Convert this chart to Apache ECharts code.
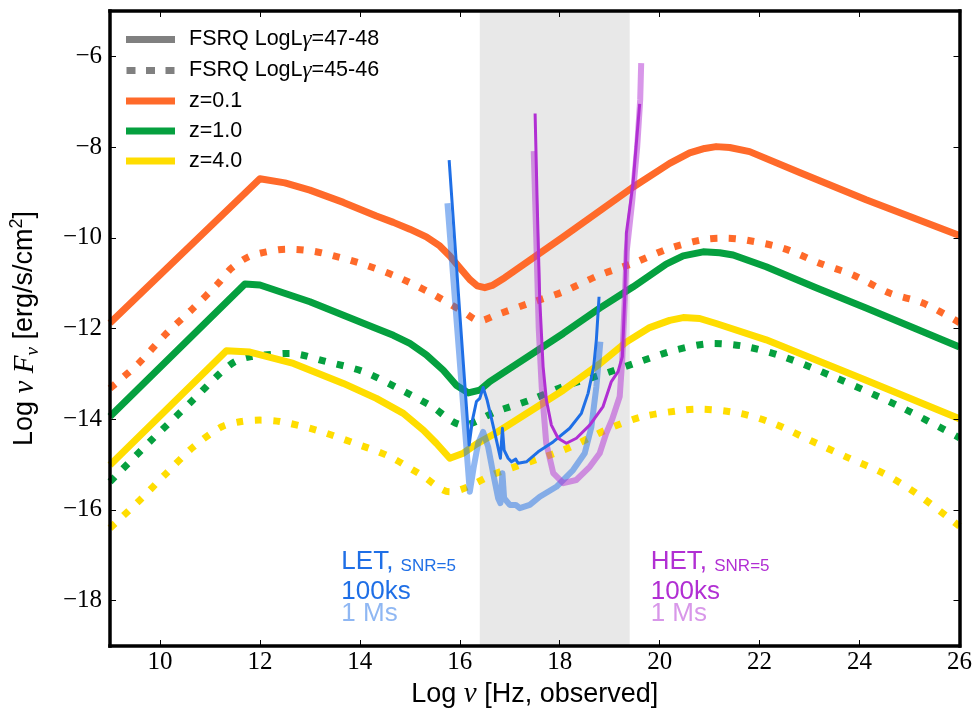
<!DOCTYPE html>
<html>
<head>
<meta charset="utf-8">
<script src="https://cdn.jsdelivr.net/npm/echarts@6/dist/echarts.min.js"></script>
<style>
  html, body { margin: 0; padding: 0; background: #fff; }
  #chart { width: 975px; height: 716px; }
</style>
</head>
<body>
<div id="chart"></div>
<script>
// Tick positions
const xTicks = [10, 12, 14, 16, 18, 20, 22, 24, 26];
const yTicks = [-18, -16, -14, -12, -10, -8, -6];

// Soft X-ray band, log Hz
const bandRange = [16.4, 19.4];

// Legend entries
const lumHi = 'FSRQ LogLγ=47-48';
const lumLo = 'FSRQ LogLγ=45-46';
const zNames = ['z=0.1', 'z=1.0', 'z=4.0'];

// FSRQ SEDs: [log nu, log nuFnu]
const sedHiZ01 = [[9,-11.88],[12.0,-8.70],[12.5,-8.79],[13.0,-8.95],[13.67,-9.22],[14.33,-9.52],[14.67,-9.66],[15.0,-9.81],[15.33,-9.98],[15.6,-10.18],[15.8,-10.40],[16.0,-10.66],[16.2,-10.92],[16.35,-11.06],[16.5,-11.10],[16.65,-11.05],[16.9,-10.88],[18.07,-9.98],[19.47,-8.88],[20.2,-8.36],[20.6,-8.13],[20.9,-8.03],[21.13,-7.99],[21.4,-8.01],[21.8,-8.10],[22.8,-8.56],[24.13,-9.16],[26,-9.95]];
const sedLoZ01 = [[9,-13.32],[9.57,-12.77],[10.1,-12.14],[10.63,-11.59],[11.17,-11.0],[11.43,-10.67],[11.77,-10.42],[12.13,-10.31],[12.53,-10.25],[12.9,-10.27],[13.27,-10.34],[14.0,-10.56],[14.7,-10.84],[15.37,-11.19],[16.07,-11.63],[16.4,-11.83],[16.73,-11.70],[17.4,-11.44],[18.07,-11.19],[18.8,-10.82],[19.47,-10.56],[20.2,-10.23],[20.93,-10.03],[21.33,-10.01],[21.73,-10.05],[22.47,-10.23],[23.2,-10.56],[23.87,-10.82],[24.6,-11.22],[25.27,-11.44],[26,-11.87]];
const sedHiZ1 = [[9,-13.94],[11.7,-11.02],[12.0,-11.04],[13.0,-11.41],[14.33,-12.0],[14.67,-12.15],[15.0,-12.33],[15.33,-12.58],[15.67,-12.92],[15.93,-13.25],[16.17,-13.42],[16.4,-13.36],[16.6,-13.17],[18.07,-12.11],[18.8,-11.55],[19.47,-11.08],[20.13,-10.58],[20.47,-10.40],[20.87,-10.31],[21.2,-10.33],[21.47,-10.38],[22.13,-10.64],[23.13,-11.10],[24.13,-11.55],[26,-12.41]];
const sedLoZ1 = [[9,-15.38],[9.83,-14.46],[10.63,-13.61],[11.2,-12.99],[11.5,-12.73],[11.83,-12.62],[12.6,-12.55],[13.33,-12.73],[14.07,-12.95],[14.73,-13.30],[15.4,-13.69],[16.07,-14.13],[16.73,-13.83],[17.4,-13.58],[18.07,-13.28],[18.8,-13.03],[19.6,-12.73],[20.33,-12.47],[21.07,-12.33],[21.73,-12.40],[22.47,-12.62],[23.47,-13.06],[24.8,-13.72],[26,-14.41]];
const sedHiZ4 = [[9,-15.01],[11.33,-12.49],[11.8,-12.52],[12.67,-12.77],[13.67,-13.21],[14.33,-13.54],[14.87,-13.87],[15.27,-14.24],[15.53,-14.53],[15.8,-14.86],[16.07,-14.75],[16.33,-14.55],[16.73,-14.30],[18.07,-13.36],[18.8,-12.78],[19.33,-12.30],[19.8,-11.98],[20.2,-11.82],[20.47,-11.76],[20.8,-11.78],[21.13,-11.89],[22.13,-12.25],[24.13,-13.14],[26,-13.99]];
const sedLoZ4 = [[9,-16.4],[9.6,-15.78],[10.13,-15.19],[10.67,-14.61],[11.23,-14.17],[11.63,-14.05],[12.0,-14.02],[12.4,-14.05],[13.13,-14.24],[13.87,-14.52],[14.57,-14.81],[15.23,-15.23],[15.8,-15.6],[16.73,-15.19],[18.07,-14.68],[19.0,-14.2],[19.67,-13.94],[20.47,-13.80],[20.8,-13.78],[21.6,-13.87],[22.27,-14.09],[23.0,-14.46],[23.73,-14.83],[24.47,-15.19],[25.13,-15.63],[26,-16.36]];

// Detector sensitivity, SNR=5: [log nu, log nuFnu]
const let100ks = [[15.787,-8.29],[16.0,-11.67],[16.187,-14.57],[16.253,-14.02],[16.333,-13.61],[16.4,-13.54],[16.467,-13.30],[16.547,-13.58],[16.633,-13.98],[16.733,-14.46],[16.813,-14.86],[16.853,-14.2],[16.887,-14.68],[16.967,-14.86],[17.033,-14.94],[17.12,-14.88],[17.167,-14.97],[17.333,-14.94],[17.567,-14.72],[17.867,-14.5],[18.2,-14.2],[18.433,-13.87],[18.567,-13.43],[18.68,-12.84],[18.733,-12.25],[18.787,-11.30]];
const let1Ms = [[15.753,-9.24],[15.987,-12.55],[16.2,-15.6],[16.28,-15.05],[16.367,-14.53],[16.467,-14.28],[16.567,-14.61],[16.667,-15.19],[16.767,-15.74],[16.813,-15.85],[16.853,-15.19],[16.887,-15.74],[17.0,-15.89],[17.12,-15.89],[17.2,-15.96],[17.4,-15.89],[17.6,-15.71],[17.933,-15.49],[18.267,-15.12],[18.5,-14.75],[18.633,-14.17],[18.733,-13.28],[18.813,-12.29]];
const het100ks = [[17.507,-7.26],[17.547,-9.17],[17.6,-11.37],[17.667,-12.84],[17.733,-13.58],[17.833,-14.13],[17.967,-14.42],[18.133,-14.53],[18.333,-14.42],[18.6,-14.13],[18.867,-13.72],[19.033,-13.17],[19.167,-12.95],[19.253,-12.62],[19.3,-11.37],[19.333,-9.9],[19.387,-9.46],[19.467,-8.8],[19.533,-7.92],[19.6,-7.05]];
const het1Ms = [[17.48,-8.09],[17.53,-10.0],[17.58,-12.0],[17.64,-13.3],[17.73,-14.53],[17.87,-15.19],[18.07,-15.41],[18.33,-15.34],[18.6,-15.05],[18.8,-14.75],[18.93,-14.31],[19.05,-14.0],[19.2,-13.5],[19.25,-12.7],[19.3,-11.4],[19.34,-10.3],[19.45,-9.2],[19.55,-8.0],[19.61,-6.96],[19.63,-6.15]];

// Baselines of the detector label lines: [x of LET block, x of HET block], y per line
const labelX = [13.63, 19.82];
const labelLineY = [-17.34, -18.01, -18.50];

const COL = {
  orange: '#ff6a2a', green: '#05a03f', yellow: '#ffdd00', gray: '#808080',
  let: '#1f6fe6', het: '#b12fd3', band: '#e8e8e8'
};
const DOT = [7, 11.5];

// Solid SEDs keep their sharp low-energy peak; dotted ones are rounded
function sed(name, data, color, dotted) {
  return {
    type: 'line', name, data, symbol: 'none', silent: true, z: 2, smooth: dotted ? 0.3 : false,
    itemStyle: { color },
    lineStyle: { color, width: 7, type: dotted ? DOT : 'solid', cap: 'butt', join: 'round' }
  };
}
function sens(name, data, color, light) {
  return {
    type: 'line', name, data, symbol: 'none', silent: true, z: light ? 3 : 4,
    itemStyle: { color },
    lineStyle: { color, width: light ? 6 : 3, opacity: light ? 0.5 : 1, join: 'round' }
  };
}

const serif = 'Liberation Serif';
const sans = 'Liberation Sans';

function axisCommon(extra) {
  return Object.assign({
    type: 'value', z: 10,
    axisLine: { show: true, onZero: false, lineStyle: { color: '#000', width: 3.5, cap: 'square' } },
    splitLine: { show: false }
  }, extra);
}

const chart = echarts.init(document.getElementById('chart'));

chart.setOption({
  animation: false,
  backgroundColor: '#fff',
  grid: { left: 110, right: 15, top: 11, bottom: 70, containLabel: false },
  legend: {
    orient: 'vertical', left: 126, top: 28, padding: 0,
    itemWidth: 49, itemHeight: 7, itemGap: 8,
    selectedMode: false,
    itemStyle: { borderWidth: 0 },
    textStyle: {
      padding: [0, 0, 0, 9],
      rich: {
        t: { fontFamily: sans, fontSize: 21.5, color: '#000', lineHeight: 22 },
        g: { fontFamily: serif, fontStyle: 'italic', fontSize: 23, color: '#000', lineHeight: 22 }
      }
    },
    formatter: name => {
      const i = name.indexOf('γ');
      if (i < 0) return '{t|' + name + '}';
      return '{t|' + name.slice(0, i) + '}{g|γ}{t|' + name.slice(i + 1) + '}';
    },
    data: [
      { name: lumHi, icon: 'rect', itemStyle: { color: COL.gray } },
      { name: lumLo, icon: 'path://M0,0h9v7h-9z M19.5,0h9v7h-9z M39,0h9v7h-9z', itemStyle: { color: COL.gray } },
      { name: zNames[0], icon: 'rect', itemStyle: { color: COL.orange } },
      { name: zNames[1], icon: 'rect', itemStyle: { color: COL.green } },
      { name: zNames[2], icon: 'rect', itemStyle: { color: COL.yellow } }
    ]
  },
  xAxis: [
    axisCommon({
      min: 9, max: 26, position: 'bottom',
      axisTick: { show: true, inside: true, length: 6, lineStyle: { color: '#000', width: 1 }, customValues: xTicks },
      axisLabel: { customValues: xTicks, margin: 4, fontFamily: serif, fontSize: 25, color: '#000' },
      name: '{t|Log }{m|ν}{t| [Hz, observed]}',
      nameLocation: 'middle', nameGap: 25,
      nameTextStyle: {
        rich: {
          t: { fontFamily: sans, fontSize: 27, color: '#000', lineHeight: 34 },
          m: { fontFamily: serif, fontStyle: 'italic', fontSize: 29, color: '#000', lineHeight: 34 }
        }
      }
    }),
    axisCommon({
      min: 9, max: 26, position: 'top',
      axisTick: { show: true, inside: true, length: 6, lineStyle: { color: '#000', width: 1 }, customValues: xTicks },
      axisLabel: { show: false }
    })
  ],
  yAxis: [
    axisCommon({
      min: -19, max: -5, position: 'left',
      axisTick: { show: true, inside: true, length: 6, lineStyle: { color: '#000', width: 1 }, customValues: yTicks },
      axisLabel: {
        customValues: yTicks, margin: 8, fontFamily: serif, fontSize: 25, color: '#000',
        formatter: v => (v < 0 ? '\u2212' : '') + Math.abs(v)
      },
      name: '{t|Log }{m|ν F}{s|ν}{t| [erg/s/cm}{p|2}{t|]}',
      nameLocation: 'middle', nameGap: 68,
      nameTextStyle: {
        rich: {
          t: { fontFamily: sans, fontSize: 27, color: '#000', lineHeight: 34 },
          m: { fontFamily: serif, fontStyle: 'italic', fontSize: 29, color: '#000', lineHeight: 34 },
          s: { fontFamily: serif, fontStyle: 'italic', fontSize: 19, color: '#000', lineHeight: 18, verticalAlign: 'bottom' },
          p: { fontFamily: sans, fontSize: 18, color: '#000', lineHeight: 17, verticalAlign: 'top' }
        }
      }
    }),
    axisCommon({
      min: -19, max: -5, position: 'right',
      axisTick: { show: true, inside: true, length: 6, lineStyle: { color: '#000', width: 1 }, customValues: yTicks },
      axisLabel: { show: false }
    })
  ],
  series: [
    {
      type: 'line', name: 'band', data: [], z: 1, silent: true,
      markArea: {
        silent: true,
        itemStyle: { color: COL.band },
        data: [[{ xAxis: bandRange[0] }, { xAxis: bandRange[1] }]]
      }
    },
    { type: 'line', name: lumHi, data: [], symbol: 'none', itemStyle: { color: COL.gray }, lineStyle: { color: COL.gray, width: 7 } },
    { type: 'line', name: lumLo, data: [], symbol: 'none', itemStyle: { color: COL.gray }, lineStyle: { color: COL.gray, width: 7, type: DOT } },
    sed(zNames[0], sedHiZ01, COL.orange, false),
    sed(zNames[0], sedLoZ01, COL.orange, true),
    sed(zNames[1], sedHiZ1, COL.green, false),
    sed(zNames[1], sedLoZ1, COL.green, true),
    sed(zNames[2], sedHiZ4, COL.yellow, false),
    sed(zNames[2], sedLoZ4, COL.yellow, true),
    sens('LET 1 Ms', let1Ms, COL.let, true),
    sens('LET 100ks', let100ks, COL.let, false),
    sens('HET 1 Ms', het1Ms, COL.het, true),
    sens('HET 100ks', het100ks, COL.het, false)
  ]
});

// Labels for the two detectors, placed in data coordinates
function lightOf(hex) {
  const n = parseInt(hex.slice(1), 16);
  const mix = c => Math.round((c + 255) / 2);
  return 'rgb(' + mix(n >> 16) + ',' + mix((n >> 8) & 255) + ',' + mix(n & 255) + ')';
}
function detectorLabels(xVal, title, color) {
  const px = chart.convertToPixel({ xAxisIndex: 0 }, xVal);
  const big = 26, small = 17;
  const lines = [
    { text: '{a|' + title + ', }{b|SNR=5}', fill: color },
    { text: '{a|100ks}', fill: color },
    { text: '{a|1 Ms}', fill: lightOf(color) }
  ];
  return lines.map((ln, i) => {
    const py = chart.convertToPixel({ yAxisIndex: 0 }, labelLineY[i]);
    return {
      type: 'text', x: px, y: py + 0.15 * big, z: 20, silent: true,
      style: {
        text: ln.text, fill: ln.fill, align: 'left', verticalAlign: 'bottom',
        rich: {
          a: { fontFamily: sans, fontSize: big, fill: ln.fill, verticalAlign: 'bottom', lineHeight: big },
          b: { fontFamily: sans, fontSize: small, fill: ln.fill, verticalAlign: 'bottom', lineHeight: small + 1 }
        }
      }
    };
  });
}

chart.setOption({
  graphic: detectorLabels(labelX[0], 'LET', COL.let).concat(detectorLabels(labelX[1], 'HET', COL.het))
});
</script>
</body>
</html>
